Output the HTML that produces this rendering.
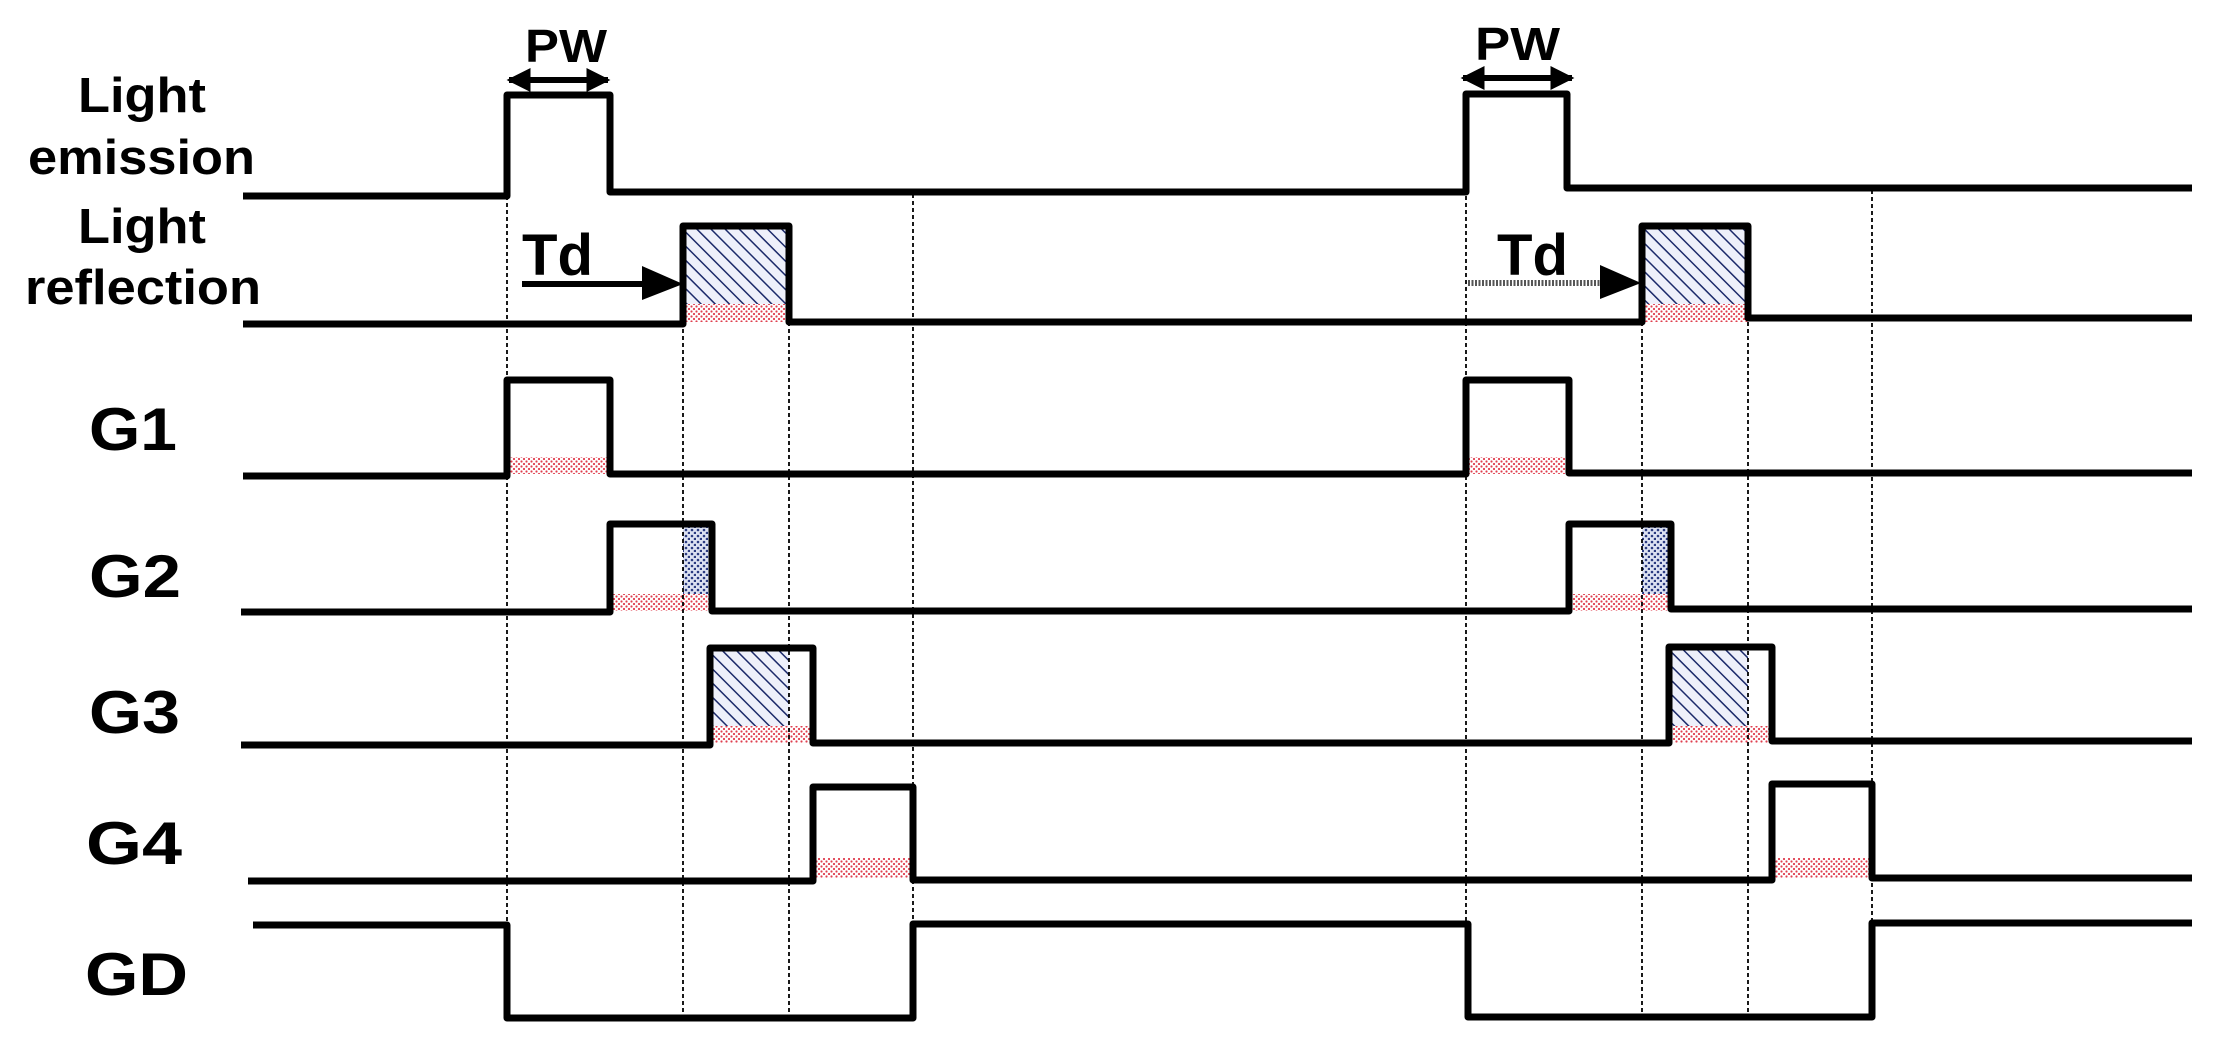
<!DOCTYPE html>
<html><head><meta charset="utf-8"><style>
html,body{margin:0;padding:0;background:#fff;}
svg{display:block;}
text{font-family:"Liberation Sans",Arial,sans-serif;font-weight:bold;fill:#000;}
</style></head><body>
<svg width="2226" height="1051" viewBox="0 0 2226 1051" xmlns="http://www.w3.org/2000/svg">
<defs>
<pattern id="hatch" width="10" height="10" patternUnits="userSpaceOnUse" patternTransform="rotate(-45)">
<rect width="10" height="10" fill="#eef0fa"/>
<line x1="0" y1="0" x2="0" y2="10" stroke="#1c2a6a" stroke-width="3"/>
</pattern>
<pattern id="dots" width="6" height="6" patternUnits="userSpaceOnUse">
<rect width="6" height="6" fill="#dde2f2"/>
<circle cx="2" cy="2" r="1.3" fill="#2a3a80"/>
<circle cx="5" cy="5" r="1.3" fill="#2a3a80"/>
</pattern>
<pattern id="red" width="5" height="5" patternUnits="userSpaceOnUse">
<rect width="5" height="5" fill="#fff"/>
<circle cx="1.5" cy="1.5" r="1.1" fill="#e04050"/>
<circle cx="4" cy="4" r="1.1" fill="#e04050"/>
</pattern>
<marker id="ah" viewBox="0 0 10 10" refX="9" refY="5" markerWidth="4" markerHeight="4" orient="auto-start-reverse"><path d="M0,0 L10,5 L0,10 z" fill="#000"/></marker>
</defs>

<g>
<rect x="683" y="226" width="106" height="96" fill="url(#hatch)"/>
<rect x="683" y="304" width="106" height="18" fill="url(#red)"/>
<rect x="507" y="457" width="103" height="17" fill="url(#red)"/>
<rect x="683" y="524" width="29" height="87" fill="url(#dots)"/>
<rect x="610" y="594" width="102" height="17" fill="url(#red)"/>
<rect x="710" y="648" width="79" height="95" fill="url(#hatch)"/>
<rect x="710" y="726" width="103" height="17" fill="url(#red)"/>
<rect x="813" y="858" width="100" height="20" fill="url(#red)"/>

<rect x="1642" y="226" width="106" height="96" fill="url(#hatch)"/>
<rect x="1642" y="304" width="106" height="18" fill="url(#red)"/>
<rect x="1466" y="457" width="103" height="17" fill="url(#red)"/>
<rect x="1642" y="524" width="29" height="87" fill="url(#dots)"/>
<rect x="1569" y="594" width="102" height="17" fill="url(#red)"/>
<rect x="1669" y="648" width="79" height="95" fill="url(#hatch)"/>
<rect x="1669" y="726" width="103" height="17" fill="url(#red)"/>
<rect x="1772" y="858" width="100" height="20" fill="url(#red)"/>
</g>

<g stroke="#000" stroke-width="1.8" stroke-dasharray="4,3" fill="none">
<line x1="507" y1="196" x2="507" y2="1018"/>
<line x1="683" y1="322" x2="683" y2="1018"/>
<line x1="789" y1="322" x2="789" y2="1018"/>
<line x1="913" y1="194" x2="913" y2="1018"/>
<line x1="1466" y1="196" x2="1466" y2="1018"/>
<line x1="1642" y1="322" x2="1642" y2="1018"/>
<line x1="1748" y1="322" x2="1748" y2="1018"/>
<line x1="1872" y1="190" x2="1872" y2="1018"/>
</g>

<g stroke="#000" stroke-width="7" fill="none" stroke-linejoin="round">
<polyline points="243,196 507,196 507,95 610,95 610,192 1466,192 1466,94 1567,94 1567,188 2192,188"/>
<polyline points="243,324 683,324 683,226 789,226 789,322 1642,322 1642,226 1748,226 1748,318 2192,318"/>
<polyline points="243,476 507,476 507,380 610,380 610,474 1466,474 1466,380 1569,380 1569,473 2192,473"/>
<polyline points="241,612 610,612 610,524 712,524 712,611 1569,611 1569,524 1671,524 1671,609 2192,609"/>
<polyline points="241,745 710,745 710,648 813,648 813,743 1669,743 1669,647 1772,647 1772,741 2192,741"/>
<polyline points="248,881 813,881 813,787 913,787 913,880 1772,880 1772,784 1872,784 1872,878 2192,878"/>
<polyline points="253,925 507,925 507,1018 913,1018 913,924 1468,924 1468,1017 1872,1017 1872,923 2192,923"/>
</g>

<g stroke="#000" stroke-width="6" fill="none">
<line x1="509" y1="80" x2="608" y2="80" marker-start="url(#ah)" marker-end="url(#ah)"/>
<line x1="1463" y1="78" x2="1572" y2="78" marker-start="url(#ah)" marker-end="url(#ah)"/>
<line x1="522" y1="284" x2="650" y2="284"/>
<line x1="1468" y1="283" x2="1608" y2="283" stroke="#555" stroke-dasharray="2,1.5" stroke-width="6"/>
</g>
<path d="M642,266 L683,284 L642,300 z" fill="#000"/>
<path d="M1600,265 L1641,283 L1600,299 z" fill="#000"/>

<text x="525" y="62" font-size="46" textLength="82" lengthAdjust="spacingAndGlyphs">PW</text>
<text x="1475" y="60" font-size="46" textLength="85" lengthAdjust="spacingAndGlyphs">PW</text>
<text x="522" y="275" font-size="58" textLength="71" lengthAdjust="spacingAndGlyphs">Td</text>
<text x="1497" y="275" font-size="58" textLength="71" lengthAdjust="spacingAndGlyphs">Td</text>

<text x="78" y="112" font-size="49" textLength="128" lengthAdjust="spacingAndGlyphs">Light</text>
<text x="28" y="174" font-size="49" textLength="227" lengthAdjust="spacingAndGlyphs">emission</text>
<text x="78" y="243" font-size="49" textLength="128" lengthAdjust="spacingAndGlyphs">Light</text>
<text x="25" y="304" font-size="49" textLength="236" lengthAdjust="spacingAndGlyphs">reflection</text>
<text x="89" y="450" font-size="60" textLength="88" lengthAdjust="spacingAndGlyphs">G1</text>
<text x="89" y="597" font-size="60" textLength="92" lengthAdjust="spacingAndGlyphs">G2</text>
<text x="89" y="733" font-size="60" textLength="91" lengthAdjust="spacingAndGlyphs">G3</text>
<text x="86" y="864" font-size="60" textLength="96" lengthAdjust="spacingAndGlyphs">G4</text>
<text x="85" y="995" font-size="60" textLength="103" lengthAdjust="spacingAndGlyphs">GD</text>
</svg>
</body></html>
